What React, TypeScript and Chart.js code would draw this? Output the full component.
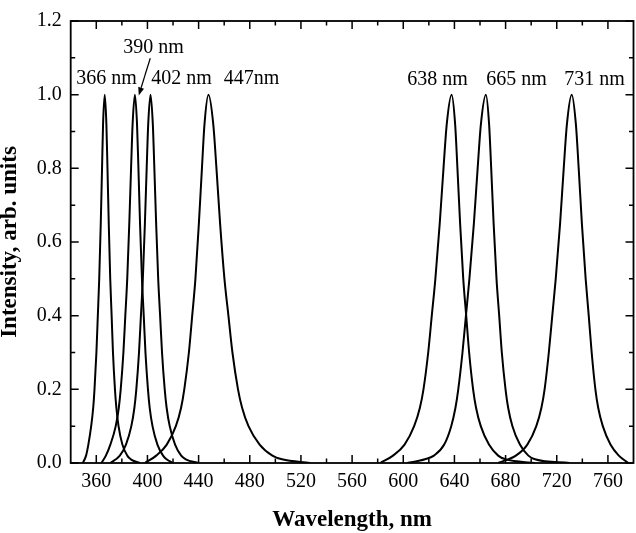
import React, { useEffect, useRef } from 'react';
import { Chart, registerables } from 'chart.js';

Chart.register(...registerables);

const FONT = '"Liberation Serif", "Times New Roman", serif';

// Axis tick labels
const xTickLabels = [360, 400, 440, 480, 520, 560, 600, 640, 680, 720, 760];
const yTickLabels = [0, 0.2, 0.4, 0.6, 0.8, 1.0, 1.2];

// Peak names
const peakNames = ['366 nm', '390 nm', '402 nm', '447nm', '638 nm', '665 nm', '731 nm'];

// Spectra (wavelength in nm, normalized intensity)
const wl366 = [349.5, 352.0, 353.8, 356.0, 357.6, 358.6, 360.1, 361.2, 362.3, 363.5, 364.5, 365.3, 366.6, 367.9, 368.75, 369.75, 370.9, 372.0, 373.05, 374.6, 375.7, 377.4, 380.4, 384.2, 387.0, 394.0];
const int366 = [0, 0.02, 0.05, 0.1, 0.15, 0.2, 0.3, 0.4, 0.5, 0.65, 0.8, 0.92, 1, 0.92, 0.8, 0.65, 0.5, 0.4, 0.3, 0.2, 0.15, 0.1, 0.05, 0.02, 0.01, 0];

const wl390 = [364, 367.5, 371.0, 375.2, 377.6, 379.1, 381.2, 382.7, 384.2, 385.8, 387.2, 388.4, 390.2, 391.85, 392.95, 394.2, 395.7, 397.1, 398.45, 400.4, 401.75, 403.95, 407.8, 412.2, 415.0, 420];
const int390 = [0, 0.02, 0.05, 0.1, 0.15, 0.2, 0.3, 0.4, 0.5, 0.65, 0.8, 0.92, 1, 0.92, 0.8, 0.65, 0.5, 0.4, 0.3, 0.2, 0.15, 0.1, 0.05, 0.02, 0.01, 0];

const wl402 = [371, 378.4, 383.2, 387.4, 389.8, 391.3, 393.4, 394.9, 396.4, 398.0, 399.4, 400.6, 402.4, 404.2, 405.4, 406.8, 408.4, 409.9, 411.4, 413.5, 415.0, 417.4, 421.6, 426.4, 430.0, 440];
const int402 = [0, 0.02, 0.05, 0.1, 0.15, 0.2, 0.3, 0.4, 0.5, 0.65, 0.8, 0.92, 1, 0.92, 0.8, 0.65, 0.5, 0.4, 0.3, 0.2, 0.15, 0.1, 0.05, 0.02, 0.01, 0];

const wl447 = [398, 406.9, 415.1, 422.2, 426.3, 428.8, 432.4, 435.0, 437.5, 440.2, 442.6, 444.6, 447.7, 451.45, 453.95, 456.8, 460.2, 463.3, 466.45, 470.8, 474.0, 479.0, 487.7, 497.7, 505.2, 527];
const int447 = [0, 0.02, 0.05, 0.1, 0.15, 0.2, 0.3, 0.4, 0.5, 0.65, 0.8, 0.92, 1, 0.92, 0.8, 0.65, 0.5, 0.4, 0.3, 0.2, 0.15, 0.1, 0.05, 0.02, 0.01, 0];

const wl638 = [582, 592, 601, 608.5, 613, 615.8, 619.5, 622.3, 625.1, 628.5, 631.45, 634.0, 637.8, 640.55, 642.35, 644.45, 646.9, 649.2, 651.5, 654.6, 656.9, 660.6, 667.0, 674.2, 680.0, 703];
const int638 = [0, 0.02, 0.05, 0.1, 0.15, 0.2, 0.3, 0.4, 0.5, 0.65, 0.8, 0.92, 1, 0.92, 0.8, 0.65, 0.5, 0.4, 0.3, 0.2, 0.15, 0.1, 0.05, 0.02, 0.01, 0];

const wl665 = [603, 617, 624, 632, 637.5, 640.8, 643, 646.3, 649, 651.7, 655.2, 658.15, 660.7, 664.6, 667.1, 668.75, 670.65, 672.9, 675.0, 677.05, 679.95, 682.0, 685.35, 691.2, 697.8, 703.0, 730];
const int665 = [0, 0.01, 0.02, 0.05, 0.1, 0.15, 0.2, 0.3, 0.4, 0.5, 0.65, 0.8, 0.92, 1, 0.92, 0.8, 0.65, 0.5, 0.4, 0.3, 0.2, 0.15, 0.1, 0.05, 0.02, 0.01, 0];

const wl731 = [674, 688, 697, 704, 708, 710.5, 713.8, 716.5, 719.2, 722.6, 725.45, 727.95, 731.7, 734.95, 737.15, 739.65, 742.6, 745.0, 747.3, 750.2, 752.4, 756.0, 762.0, 768.5, 776];
const int731 = [0, 0.02, 0.05, 0.1, 0.15, 0.2, 0.3, 0.4, 0.5, 0.65, 0.8, 0.92, 1, 0.92, 0.8, 0.65, 0.5, 0.4, 0.3, 0.2, 0.15, 0.1, 0.05, 0.02, 0];

const spectra: [number[], number[]][] = [
  [wl366, int366],
  [wl390, int390],
  [wl402, int402],
  [wl447, int447],
  [wl638, int638],
  [wl665, int665],
  [wl731, int731],
];

// Label anchors (data coordinates) for the peak names
const labelAnchors = [
  { x: 368.0, y: 1.029 },
  { x: 404.7, y: 1.112 },
  { x: 426.6, y: 1.029 },
  { x: 481.3, y: 1.029 },
  { x: 626.7, y: 1.027 },
  { x: 688.5, y: 1.027 },
  { x: 749.5, y: 1.027 },
];
const arrowFrom = { x: 402.2, y: 1.099 };
const arrowTo = { x: 393.2, y: 0.998 };

const framePlugin = {
  id: 'framePlugin',
  afterDraw(chart: any) {
    const { ctx, chartArea } = chart;
    const xs = chart.scales.x;
    const ys = chart.scales.y;
    const { left, right, top, bottom } = chartArea;
    ctx.save();
    ctx.strokeStyle = '#000';
    ctx.fillStyle = '#000';

    // ticks (inward, on all four sides)
    ctx.lineWidth = 1.5;
    const major = 8;
    const minor = 4.5;
    const xMin = xs.min, xMax = xs.max;
    const xMinor: number[] = [];
    for (let i = 0; i < xTickLabels.length - 1; i++) xMinor.push((xTickLabels[i] + xTickLabels[i + 1]) / 2);
    xMinor.push(xTickLabels[0] - 20, xTickLabels[xTickLabels.length - 1] + 20);
    ctx.beginPath();
    xTickLabels.forEach((v) => {
      const p = xs.getPixelForValue(v);
      ctx.moveTo(p, bottom); ctx.lineTo(p, bottom - major);
      ctx.moveTo(p, top); ctx.lineTo(p, top + major);
    });
    xMinor.filter((v) => v > xMin && v < xMax).forEach((v) => {
      const p = xs.getPixelForValue(v);
      ctx.moveTo(p, bottom); ctx.lineTo(p, bottom - minor);
      ctx.moveTo(p, top); ctx.lineTo(p, top + minor);
    });
    yTickLabels.forEach((v) => {
      const p = ys.getPixelForValue(v);
      ctx.moveTo(left, p); ctx.lineTo(left + major, p);
      ctx.moveTo(right, p); ctx.lineTo(right - major, p);
    });
    for (let i = 0; i < yTickLabels.length - 1; i++) {
      const p = ys.getPixelForValue((yTickLabels[i] + yTickLabels[i + 1]) / 2);
      ctx.moveTo(left, p); ctx.lineTo(left + minor, p);
      ctx.moveTo(right, p); ctx.lineTo(right - minor, p);
    }
    ctx.stroke();

    // frame
    ctx.lineWidth = 1.8;
    ctx.strokeRect(left, top, right - left, bottom - top);

    // peak labels
    ctx.font = `20px ${FONT}`;
    ctx.textAlign = 'center';
    ctx.textBaseline = 'alphabetic';
    peakNames.forEach((name, i) => {
      const a = labelAnchors[i];
      ctx.fillText(name, xs.getPixelForValue(a.x), ys.getPixelForValue(a.y));
    });

    // arrow
    const x1 = xs.getPixelForValue(arrowFrom.x), y1 = ys.getPixelForValue(arrowFrom.y);
    const x2 = xs.getPixelForValue(arrowTo.x), y2 = ys.getPixelForValue(arrowTo.y);
    const ang = Math.atan2(y2 - y1, x2 - x1);
    const hl = 8, hw = 3;
    const bx = x2 - hl * Math.cos(ang), by = y2 - hl * Math.sin(ang);
    ctx.lineWidth = 1.2;
    ctx.beginPath();
    ctx.moveTo(x1, y1);
    ctx.lineTo(bx, by);
    ctx.stroke();
    ctx.beginPath();
    ctx.moveTo(x2, y2);
    ctx.lineTo(bx + hw * Math.sin(ang), by - hw * Math.cos(ang));
    ctx.lineTo(bx - hw * Math.sin(ang), by + hw * Math.cos(ang));
    ctx.closePath();
    ctx.fill();
    ctx.restore();
  },
};

export default function App() {
  const ref = useRef<HTMLCanvasElement>(null);
  useEffect(() => {
    const canvas = ref.current;
    if (!canvas) return;
    const chart = new Chart(canvas, {
      type: 'line',
      data: {
        datasets: spectra.map(([xs, ys], i) => ({
          label: peakNames[i],
          data: xs.map((x, j) => ({ x, y: ys[j] })),
          borderColor: '#000',
          borderWidth: 2,
          pointRadius: 0,
          fill: false,
          cubicInterpolationMode: 'monotone' as const,
        })),
      },
      options: {
        animation: false,
        responsive: false,
        events: [],
        layout: { padding: { top: 8.5, right: 2.5, left: 0, bottom: 0 } },
        plugins: { legend: { display: false }, tooltip: { enabled: false } },
        scales: {
          x: {
            type: 'linear',
            min: 340,
            max: 780,
            afterBuildTicks: (s: any) => {
              s.ticks = xTickLabels.map((v) => ({ value: v }));
            },
            afterFit: (s: any) => {
              s.height = 70;
            },
            ticks: {
              color: '#000',
              font: { family: FONT, size: 20 },
              padding: 7,
              maxRotation: 0,
              autoSkip: false,
              callback: (v: any) => String(v),
            },
            grid: { display: false, drawTicks: false },
            border: { display: false },
            title: {
              display: true,
              text: 'Wavelength, nm',
              color: '#000',
              font: { family: FONT, size: 23, weight: 'bold', lineHeight: 1 },
              padding: { top: 0, bottom: 1 },
            },
          },
          y: {
            type: 'linear',
            min: 0,
            max: 1.2,
            afterBuildTicks: (s: any) => {
              s.ticks = yTickLabels.map((v) => ({ value: v }));
            },
            afterFit: (s: any) => {
              s.width = 70.7;
            },
            ticks: {
              color: '#000',
              font: { family: FONT, size: 20 },
              padding: 9,
              callback: (v: any) => Number(v).toFixed(1),
            },
            grid: { display: false, drawTicks: false },
            border: { display: false },
            title: {
              display: true,
              text: 'Intensity, arb. units',
              color: '#000',
              font: { family: FONT, size: 23, weight: 'bold', lineHeight: 0.86 },
              padding: { top: 0, bottom: 0 },
            },
          },
        },
      },
      plugins: [framePlugin],
    } as any);
    return () => chart.destroy();
  }, []);
  return (
    <div style={{ position: 'absolute', left: 0, top: 0, width: 636, height: 533 }}>
      <canvas ref={ref} width={636} height={533} style={{ display: 'block' }} />
    </div>
  );
}
